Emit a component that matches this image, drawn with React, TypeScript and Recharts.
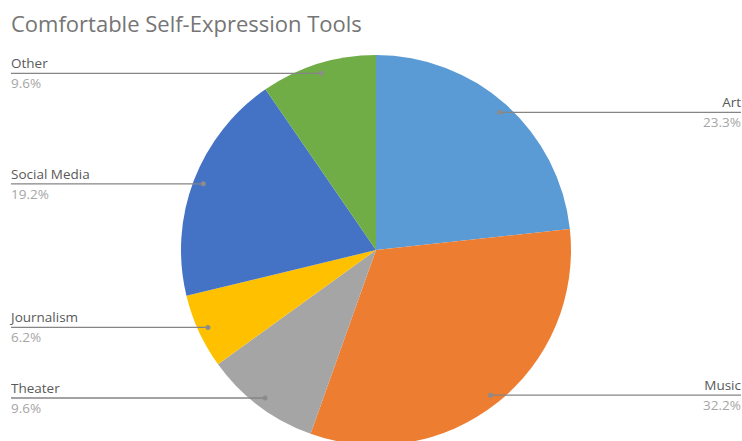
import React from 'react';
import { PieChart, Pie, Cell } from 'recharts';

const categories = ['Art', 'Music', 'Theater', 'Journalism', 'Social Media', 'Other'];
const shares = [23.3, 32.2, 9.6, 6.2, 19.2, 9.6];
const sliceColors = ['#5B9BD5', '#ED7D31', '#A5A5A5', '#FFC000', '#4472C4', '#70AD47'];

const data = categories.map((name, i) => ({ name, value: shares[i] }));

const RAD = Math.PI / 180;
const FONT = '"Open Sans", sans-serif';

const SliceLabel: React.FC<any> = ({ cx, cy, midAngle, outerRadius, name, value }) => {
  const r = outerRadius - 10;
  const x = cx + r * Math.cos(-midAngle * RAD);
  const y = cy + r * Math.sin(-midAngle * RAD);
  const right = x > cx;
  const edge = right ? 741 : 11;
  return (
    <g>
      <line x1={x} y1={y} x2={edge} y2={y} stroke="#858585" strokeWidth={1.3} />
      <circle cx={x} cy={y} r={2.5} fill="#8c8c8c" />
      <text x={edge} y={y - 5} fill="#595959" fontSize={13.5} fontFamily={FONT} textAnchor={right ? 'end' : 'start'}>
        {name}
      </text>
      <text x={edge} y={y + 15} fill="#a6a6a6" fontSize={13.5} fontFamily={FONT} textAnchor={right ? 'end' : 'start'}>
        {value.toFixed(1)}%
      </text>
    </g>
  );
};

export default function App() {
  return (
    <div style={{ position: 'absolute', left: 0, top: 0, width: 742, height: 441, background: '#fff', overflow: 'hidden' }}>
      <div
        style={{
          position: 'absolute',
          left: 11,
          top: 8,
          fontFamily: FONT,
          fontSize: 22,
          color: '#757575',
          whiteSpace: 'nowrap',
          lineHeight: '30px',
        }}
      >
        Comfortable Self-Expression Tools
      </div>
      <PieChart width={742} height={441} margin={{ top: 0, right: 0, bottom: 0, left: 0 }}>
        <Pie
          data={data}
          dataKey="value"
          nameKey="name"
          cx={376}
          cy={250}
          outerRadius={195}
          startAngle={90}
          endAngle={-270}
          stroke="none"
          labelLine={false}
          label={<SliceLabel />}
          isAnimationActive={false}
        >
          {data.map((d, i) => (
            <Cell key={d.name} fill={sliceColors[i]} />
          ))}
        </Pie>
      </PieChart>
    </div>
  );
}
